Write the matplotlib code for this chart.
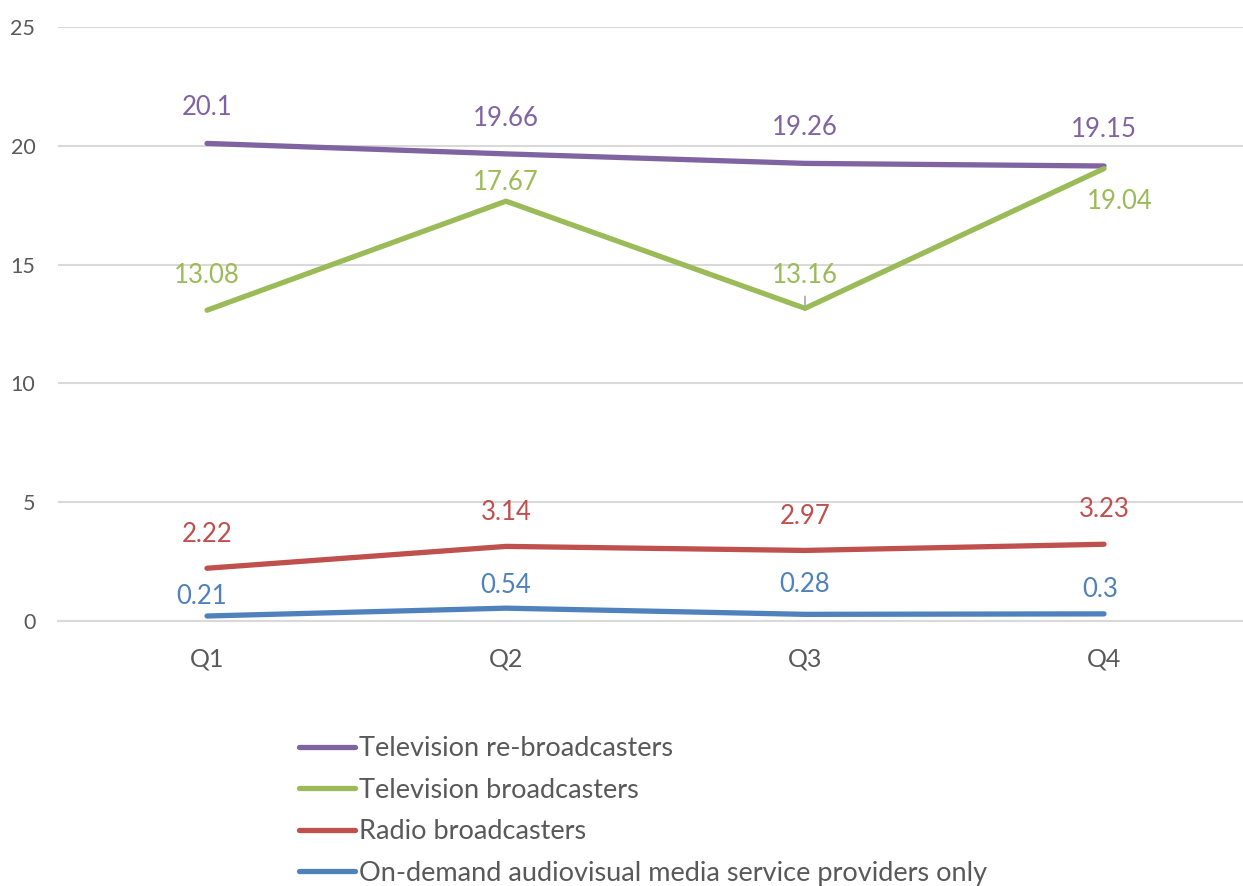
import numpy as np
import matplotlib.pyplot as plt

quarters = ["Q1", "Q2", "Q3", "Q4"]
tv_rebroadcasters = [20.1, 19.66, 19.26, 19.15]
tv_broadcasters = [13.08, 17.67, 13.16, 19.04]
radio_broadcasters = [2.22, 3.14, 2.97, 3.23]
on_demand = [0.21, 0.54, 0.28, 0.3]

names = ["Television re-broadcasters", "Television broadcasters",
         "Radio broadcasters", "On-demand audiovisual media service providers only"]
colors = ["#8064A2", "#9BBB59", "#C0504D", "#4F81BD"]

# label offsets from each point, in pixels (dx, dy)
label_offsets = [
    [(0, 36), (0, 35), (0, 36), (0, 36)],
    [(0, 35), (0, 19), (0, 33), (16, -33)],
    [(0, 34), (0, 34), (0, 34), (0, 35)],
    [(-5, 20), (0, 23), (0, 30), (-4, 24)],
]

plt.rcParams['font.family'] = ['Lato', 'DejaVu Sans']

fig = plt.figure(figsize=(12.43, 8.86), dpi=100)
ax = fig.add_axes([57.5 / 1243, 1 - 621 / 886, 1196 / 1243, 594 / 886])

x = np.arange(len(quarters))
series = [tv_rebroadcasters, tv_broadcasters, radio_broadcasters, on_demand]
for vals, name, c, offs in zip(series, names, colors, label_offsets):
    ax.plot(x, vals, color=c, lw=3.8, solid_capstyle='round', label=name)
    for i, v in enumerate(vals):
        dx, dy = offs[i]
        ax.annotate(f"{v:g}", (i, v), xytext=(dx * 0.72, dy * 0.72), textcoords='offset points',
                    ha='center', va='center', color=c, fontsize=18.5)

# small leader line for the Q3 television broadcasters label
ax.annotate("", (2, tv_broadcasters[2] + 0.08), xytext=(2, tv_broadcasters[2] + 0.5),
            arrowprops=dict(arrowstyle='-', color='#A6A6A6', lw=1.2, shrinkA=0, shrinkB=0))

ax.set_xlim(-0.5, 3.5)
ax.set_ylim(0, 25)
ax.set_yticks([0, 5, 10, 15, 20, 25])
ax.set_xticks(x)
ax.set_xticklabels(quarters)
ax.grid(axis='y', color='#D9D9D9', lw=1.5)
ax.set_axisbelow(True)
for s in ax.spines.values():
    s.set_visible(False)
ax.tick_params(length=0, colors='#595959')
ax.tick_params(axis='y', pad=16, labelsize=15.5)
ax.tick_params(axis='x', pad=19, labelsize=18)
ax.spines['bottom'].set_visible(True)
ax.spines['bottom'].set_color('#D9D9D9')
ax.spines['bottom'].set_linewidth(1.5)

leg = fig.legend(loc='upper left', bbox_to_anchor=(275 / 1243, 1 - 712 / 886), frameon=False,
                 fontsize=19.5, handlelength=2.05, handletextpad=0.15, labelspacing=0.61,
                 labelcolor='#595959')
for line in leg.get_lines():
    line.set_linewidth(3.8)

fig.savefig("out.png", dpi=100)
